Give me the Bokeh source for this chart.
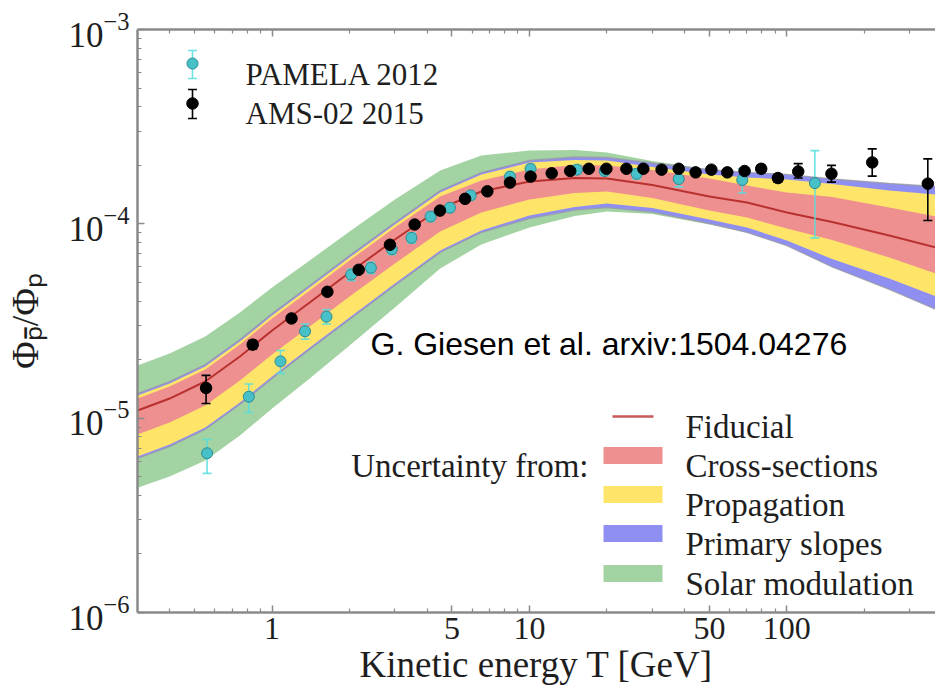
import math
from bokeh.plotting import figure
from bokeh.models import (ColumnDataSource, Label, FixedTicker, LogAxis,
                          CustomJSTickFormatter, LogTickFormatter, Range1d)
from bokeh.embed import file_html
from bokeh.resources import INLINE

# ---------------- data ----------------
# AMS-02 2015 antiproton / proton ratio
ams_T = [0.554, 0.841, 1.19, 1.64, 2.17, 2.87, 3.58, 4.49, 5.62, 6.86, 8.40, 10.1, 12.2,
         14.4, 17.0, 19.9, 23.8, 27.7, 32.6, 38.0, 44.2, 50.9, 58.7, 68.5, 79.5, 92.3,
         110.7, 149.0, 214.6, 352.9]
ams_R = [1.43e-5, 2.39e-5, 3.26e-5, 4.47e-5, 5.80e-5, 7.80e-5, 9.92e-5, 1.17e-4, 1.345e-4,
         1.47e-4, 1.63e-4, 1.75e-4, 1.82e-4, 1.87e-4, 1.92e-4, 1.92e-4, 1.92e-4, 1.92e-4,
         1.90e-4, 1.92e-4, 1.84e-4, 1.90e-4, 1.84e-4, 1.87e-4, 1.92e-4, 1.72e-4, 1.86e-4,
         1.81e-4, 2.07e-4, 1.61e-4]
ams_lo = [1.19e-5, 2.27e-5, 3.12e-5, 4.30e-5, 5.60e-5, 7.55e-5, 9.62e-5, 1.135e-4, 1.31e-4,
          1.43e-4, 1.59e-4, 1.71e-4, 1.78e-4, 1.83e-4, 1.88e-4, 1.88e-4, 1.88e-4, 1.88e-4,
          1.86e-4, 1.87e-4, 1.79e-4, 1.84e-4, 1.78e-4, 1.80e-4, 1.84e-4, 1.64e-4, 1.72e-4,
          1.64e-4, 1.76e-4, 1.04e-4]
ams_hi = [1.66e-5, 2.51e-5, 3.40e-5, 4.64e-5, 6.00e-5, 8.05e-5, 1.02e-4, 1.205e-4, 1.38e-4,
          1.51e-4, 1.67e-4, 1.79e-4, 1.86e-4, 1.91e-4, 1.96e-4, 1.96e-4, 1.96e-4, 1.96e-4,
          1.94e-4, 1.97e-4, 1.89e-4, 1.96e-4, 1.90e-4, 1.94e-4, 2.00e-4, 1.80e-4, 2.04e-4,
          2.00e-4, 2.43e-4, 2.16e-4]

# PAMELA 2012 antiproton / proton ratio
pam_T = [0.559, 0.812, 1.078, 1.343, 1.627, 2.03, 2.42, 2.92, 3.48, 4.13, 4.91, 5.91, 8.4,
         10.1, 15.3, 19.6, 26.1, 38.0, 67.1, 128.5]
pam_R = [6.6e-6, 1.29e-5, 1.96e-5, 2.80e-5, 3.33e-5, 5.48e-5, 5.94e-5, 7.40e-5, 8.47e-5,
         1.09e-4, 1.21e-4, 1.40e-4, 1.75e-4, 1.92e-4, 1.90e-4, 1.87e-4, 1.81e-4, 1.70e-4,
         1.68e-4, 1.62e-4]
pam_lo = [5.2e-6, 1.07e-5, 1.70e-5, 2.55e-5, 3.05e-5, 5.10e-5, 5.55e-5, 6.95e-5, 7.95e-5,
          1.03e-4, 1.15e-4, 1.33e-4, 1.66e-4, 1.82e-4, 1.80e-4, 1.77e-4, 1.70e-4, 1.55e-4,
          1.44e-4, 8.47e-5]
pam_hi = [7.76e-6, 1.50e-5, 2.23e-5, 3.05e-5, 3.62e-5, 5.85e-5, 6.35e-5, 7.85e-5, 9.00e-5,
          1.15e-4, 1.27e-4, 1.47e-4, 1.84e-4, 2.02e-4, 2.00e-4, 1.97e-4, 1.92e-4, 1.85e-4,
          1.92e-4, 2.38e-4]

# Model: fiducial curve and uncertainty envelopes
band_T = [0.3, 0.4, 0.55, 0.75, 1.0, 1.4, 2.0, 3.0, 4.5, 6.5, 10, 15, 20, 30, 50, 70,
          100, 150, 250, 380]
fiducial = [1.095e-5, 1.262e-5, 1.544e-5, 2.076e-5, 2.825e-5, 3.937e-5, 5.618e-5, 8.306e-5,
            1.199e-4, 1.467e-4, 1.651e-4, 1.721e-4, 1.711e-4, 1.584e-4, 1.382e-4, 1.288e-4,
            1.144e-4, 1.022e-4, 8.71e-5, 7.55e-5]
xsec_hi = [1.263e-5, 1.455e-5, 1.780e-5, 2.394e-5, 3.257e-5, 4.539e-5, 6.478e-5, 9.577e-5,
           1.382e-4, 1.671e-4, 1.904e-4, 2.008e-4, 1.997e-4, 1.891e-4, 1.711e-4, 1.575e-4,
           1.449e-4, 1.375e-4, 1.213e-4, 1.090e-4]
xsec_lo = [8.23e-6, 9.49e-6, 1.161e-5, 1.561e-5, 2.124e-5, 2.961e-5, 4.225e-5, 6.246e-5,
           9.12e-5, 1.144e-4, 1.334e-4, 1.440e-4, 1.466e-4, 1.357e-4, 1.171e-4, 1.078e-4,
           9.46e-5, 8.26e-5, 6.71e-5, 5.55e-5]
prop_hi = [1.307e-5, 1.507e-5, 1.844e-5, 2.479e-5, 3.373e-5, 4.701e-5, 6.708e-5, 9.917e-5,
           1.450e-4, 1.794e-4, 2.067e-4, 2.131e-4, 2.118e-4, 1.961e-4, 1.794e-4, 1.732e-4,
           1.692e-4, 1.604e-4, 1.484e-4, 1.415e-4]
prop_lo = [6.35e-6, 7.32e-6, 8.96e-6, 1.204e-5, 1.639e-5, 2.311e-5, 3.298e-5, 4.934e-5,
           7.29e-5, 9.24e-5, 1.103e-4, 1.220e-4, 1.271e-4, 1.205e-4, 1.052e-4, 9.57e-5,
           8.21e-5, 6.59e-5, 5.23e-5, 4.23e-5]
slope_hi = [1.339e-5, 1.543e-5, 1.888e-5, 2.539e-5, 3.455e-5, 4.815e-5, 6.871e-5, 1.016e-4,
            1.484e-4, 1.837e-4, 2.118e-4, 2.208e-4, 2.195e-4, 2.056e-4, 1.903e-4, 1.838e-4,
            1.795e-4, 1.701e-4, 1.613e-4, 1.555e-4]
slope_lo = [6.20e-6, 7.14e-6, 8.74e-6, 1.175e-5, 1.599e-5, 2.256e-5, 3.219e-5, 4.817e-5,
            7.12e-5, 9.02e-5, 1.065e-4, 1.177e-4, 1.213e-4, 1.150e-4, 1.003e-4, 9.03e-5,
            7.73e-5, 6.00e-5, 4.60e-5, 3.62e-5]
solar_hi = [1.866e-5, 2.150e-5, 2.631e-5, 3.496e-5, 4.701e-5, 6.476e-5, 9.135e-5, 1.335e-4,
            1.881e-4, 2.247e-4, 2.384e-4, 2.397e-4, 2.329e-4, 2.105e-4, 1.903e-4, 1.838e-4,
            1.795e-4, 1.701e-4, 1.613e-4, 1.555e-4]
solar_lo = [4.39e-6, 5.01e-6, 6.05e-6, 8.14e-6, 1.122e-5, 1.598e-5, 2.365e-5, 3.713e-5,
            5.89e-5, 7.83e-5, 9.58e-5, 1.098e-4, 1.157e-4, 1.123e-4, 9.92e-5, 9.03e-5,
            7.73e-5, 6.00e-5, 4.60e-5, 3.62e-5]

x_major = [1, 5, 10, 50, 100]
x_minor = [0.4, 0.5, 0.6, 0.7, 0.8, 0.9, 2, 3, 4, 6, 7, 8, 9, 20, 30, 40, 60, 70, 80, 90,
           200, 300]
y_major = [1e-6, 1e-5, 1e-4, 1e-3]
y_minor = [k * 10.0 ** e for e in (-6, -5, -4) for k in range(2, 10)]

# ---------------- styling ----------------
GREEN = "#a3d3a3"
BLUE = "#8f8ff2"
YELLOW = "#ffe46a"
RED = "#ef9090"
EDGE = "#9a9aa8"
FID = "#b8312f"
CYAN = "#48c0c8"
CYAN_EDGE = "#2c8a90"
CYAN_BAR = "#55dede"
SERIF = "Liberation Serif"
TXT = "#1e1e1e"
AX = "#8a8a8a"

W, H = 935, 693
FL, FR, FT, FB = 137, 935, 29, 612          # plot frame in canvas pixels
X_START, X_END = 0.3, 378.0
Y_START, Y_END = 1e-6, 1e-3

LX0, LX1 = math.log10(X_START), math.log10(X_END)
LY0, LY1 = math.log10(Y_START), math.log10(Y_END)


def dx(sx):
    """canvas x pixel -> data x"""
    return 10 ** (LX0 + (sx - FL) / (FR - FL) * (LX1 - LX0))


def dy(sy):
    """canvas y pixel (from top) -> data y"""
    return 10 ** (LY1 - (sy - FT) / (FB - FT) * (LY1 - LY0))


p = figure(width=W, height=H, x_axis_type="log", y_axis_type="log",
           x_range=Range1d(X_START, X_END), y_range=Range1d(Y_START, Y_END),
           output_backend="svg", toolbar_location=None,
           min_border_left=FL, min_border_right=W - FR,
           min_border_top=FT, min_border_bottom=H - FB)
p.outline_line_color = None
p.xgrid.visible = False
p.ygrid.visible = False
p.background_fill_color = "white"
p.border_fill_color = "white"


def style_axis(ax, size):
    ax.axis_line_color = AX
    ax.axis_line_width = 2.5
    ax.major_tick_line_color = AX
    ax.major_tick_line_width = 1.5
    ax.minor_tick_line_color = AX
    ax.minor_tick_line_width = 1.2
    ax.major_tick_in = 7
    ax.major_tick_out = 0
    ax.minor_tick_in = 4
    ax.minor_tick_out = 0
    ax.major_label_text_font = SERIF
    ax.major_label_text_font_size = size
    ax.major_label_text_color = TXT
    ax.axis_label_text_font = SERIF
    ax.axis_label_text_font_style = "normal"
    ax.axis_label_text_color = TXT


xticker = FixedTicker(ticks=x_major, minor_ticks=x_minor)
yticker = FixedTicker(ticks=y_major, minor_ticks=y_minor)

xax = p.xaxis[0]
yax = p.yaxis[0]
xax.ticker = xticker
xax.formatter = CustomJSTickFormatter(code="return tick.toString()")
yax.ticker = yticker
yax.formatter = LogTickFormatter()
style_axis(xax, "32px")
style_axis(yax, "35px")
xax.major_label_standoff = 5
yax.major_label_standoff = 8

xax.axis_label = "Kinetic energy T [GeV]"
xax.axis_label_text_font_size = "37px"
xax.axis_label_standoff = 2

yax.axis_label = "Φ\u209a\u0304/Φ\u209a"
yax.axis_label_text_font_size = "38px"
yax.axis_label_standoff = 19

top = LogAxis(ticker=xticker, formatter=CustomJSTickFormatter(code="return ''"))
style_axis(top, "1px")
top.major_label_standoff = 0
p.add_layout(top, "above")

# ---------------- uncertainty bands ----------------
bands = ColumnDataSource(dict(T=band_T, fid=fiducial, xs_lo=xsec_lo, xs_hi=xsec_hi,
                              pr_lo=prop_lo, pr_hi=prop_hi, sl_lo=slope_lo, sl_hi=slope_hi,
                              so_lo=solar_lo, so_hi=solar_hi))
p.varea(x="T", y1="so_lo", y2="so_hi", fill_color=GREEN, source=bands)
p.varea(x="T", y1="sl_lo", y2="sl_hi", fill_color=BLUE, source=bands)
p.varea(x="T", y1="pr_lo", y2="pr_hi", fill_color=YELLOW, source=bands)
p.varea(x="T", y1="xs_lo", y2="xs_hi", fill_color=RED, source=bands)
for col in ("sl_lo", "sl_hi"):
    p.line(x="T", y=col, line_color=EDGE, line_width=1.3, line_alpha=0.8, source=bands)
p.line(x="T", y="fid", line_color=FID, line_width=2, source=bands)

# ---------------- data points ----------------
pam = ColumnDataSource(dict(T=pam_T, R=pam_R, lo=pam_lo, hi=pam_hi))
ams = ColumnDataSource(dict(T=ams_T, R=ams_R, lo=ams_lo, hi=ams_hi))


def errorbars(src, color, alpha=1.0):
    p.segment(x0="T", y0="lo", x1="T", y1="hi", line_color=color, line_width=1.6,
              line_alpha=alpha, source=src)
    for col in ("lo", "hi"):
        p.scatter(x="T", y=col, marker="dash", size=9, line_color=color, line_width=1.6,
                  line_alpha=alpha, source=src)


errorbars(pam, CYAN_BAR, 0.85)
p.scatter(x="T", y="R", size=11, fill_color=CYAN, line_color=CYAN_EDGE, line_width=1,
          source=pam)
errorbars(ams, "black")
p.scatter(x="T", y="R", size=11.5, fill_color="black", line_color="black", source=ams)


# ---------------- texts ----------------
def label(text, sx, sy, size, align="left", baseline="alphabetic", font=SERIF,
          color=TXT):
    p.add_layout(Label(x=dx(sx), y=dy(sy), text=text, text_font=font,
                       text_font_size=f"{size}px", text_align=align,
                       text_baseline=baseline, text_color=color))


# data legend (top left)
key = dict(T=[dx(192), dx(192)], R=[dy(63), dy(103)],
           lo=[dy(78), dy(118)], hi=[dy(50), dy(89)])
kp = ColumnDataSource({k: v[:1] for k, v in key.items()})
ka = ColumnDataSource({k: v[1:] for k, v in key.items()})
errorbars(kp, CYAN_BAR, 0.85)
p.scatter(x="T", y="R", size=11, fill_color=CYAN, line_color=CYAN_EDGE, source=kp)
errorbars(ka, "black")
p.scatter(x="T", y="R", size=11.5, fill_color="black", line_color="black", source=ka)
label("PAMELA 2012", 245, 74, 31)
label("AMS-02 2015", 245, 113, 31)

# model legend (bottom right)
p.line(x=[dx(612), dx(653)], y=[dy(416), dy(416)], line_color=FID, line_width=2.5,
       line_alpha=0.8)
label("Fiducial", 685, 426, 33)
label("Uncertainty from:", 588, 465, 33, align="right")
for name, color, sy in (("Cross-sections", RED, 455), ("Propagation", YELLOW, 494),
                        ("Primary slopes", BLUE, 533), ("Solar modulation", GREEN, 573)):
    p.quad(left=[dx(603)], right=[dx(662)], top=[dy(sy - 8.5)], bottom=[dy(sy + 8.5)],
           fill_color=color, line_color=None)
    label(name, 685, sy + 10, 33)

label("G. Giesen et al. arxiv:1504.04276", 370, 343, 32, font="Liberation Sans",
      color="black")

open("out.html", "w").write(file_html(p, INLINE))
